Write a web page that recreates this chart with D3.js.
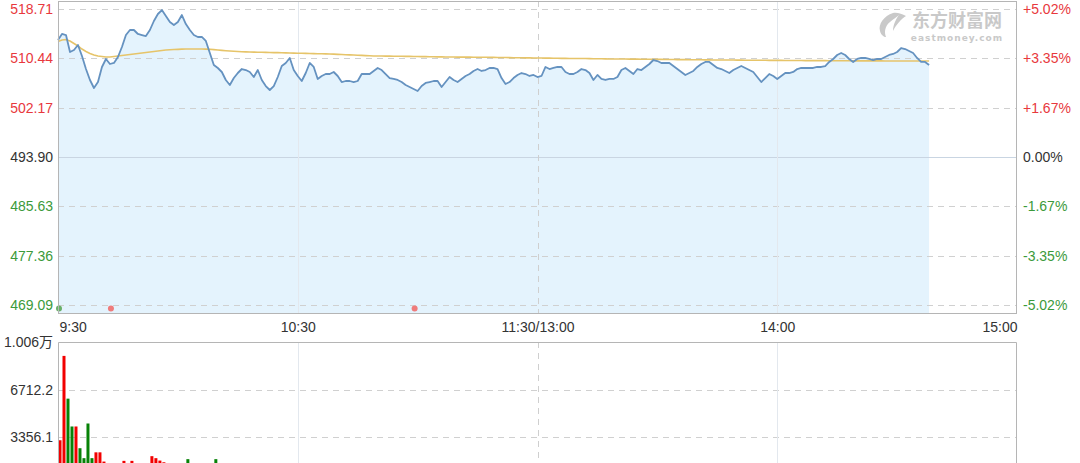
<!DOCTYPE html>
<html><head><meta charset="utf-8">
<script src="https://cdn.jsdelivr.net/npm/d3@7/dist/d3.min.js"></script>
<style>
html,body{margin:0;padding:0;background:#fff;overflow:hidden}
svg{display:block;font-family:"Liberation Sans",Arial,"Noto Sans CJK SC",sans-serif}
</style></head>
<body><svg id="c" width="1080" height="463"></svg>
<script>
// ---------- data ----------
const prevClose = 493.90;
const priceTicks = [518.71, 510.44, 502.17, 493.90, 485.63, 477.36, 469.09];
const pctLabels = ["+5.02%", "+3.35%", "+1.67%", "0.00%", "-1.67%", "-3.35%", "-5.02%"];
const timeTickMinutes = [0, 60, 120, 180, 240];
const timeTickLabels = ["9:30", "10:30", "11:30/13:00", "14:00", "15:00"];
const volTicks = [10068.3, 6712.2, 3356.1];
const volTickLabels = ["1.006万", "6712.2", "3356.1"];

const prices = [
513.51,514.52,514.35,511.50,511.84,512.68,510.83,508.65,506.81,505.47,
506.47,508.99,510.33,509.49,509.66,510.66,512.34,514.35,515.19,515.19,
514.52,514.35,514.18,515.19,516.70,517.87,518.54,517.54,516.53,516.03,
516.53,517.70,516.19,515.19,514.35,514.02,514.02,513.35,511.33,509.32,
508.82,508.15,506.81,505.97,507.14,507.98,508.65,508.48,508.15,507.31,
508.48,506.81,505.80,505.13,505.80,507.31,509.15,509.66,510.50,508.48,
507.48,506.64,507.98,509.66,508.99,506.98,507.48,507.81,507.81,508.15,
507.48,506.47,506.64,506.64,506.47,506.64,507.81,507.81,507.81,508.32,
508.82,508.48,507.81,507.14,506.98,506.81,506.47,505.97,505.63,505.30,
504.96,505.80,506.31,506.47,506.64,506.64,505.63,506.47,507.31,506.81,
506.47,506.98,507.48,507.81,508.32,508.65,508.32,508.48,508.82,508.82,
508.65,507.14,506.14,506.47,507.14,507.65,507.98,507.81,507.48,507.65,
507.31,507.48,508.99,508.65,508.82,508.99,508.99,508.15,507.81,507.81,
508.15,508.65,508.48,507.98,506.81,507.65,506.98,506.81,506.98,506.98,
507.31,508.48,508.82,508.32,507.81,508.65,508.48,508.99,509.49,510.16,
509.99,509.66,509.66,509.66,509.15,508.65,508.15,507.65,507.98,508.32,
508.99,509.49,509.83,509.83,509.32,508.82,508.65,508.32,507.98,508.48,
508.82,509.15,508.82,508.48,508.15,507.31,506.47,507.14,507.81,507.48,
506.98,507.48,507.98,507.98,508.15,508.65,508.82,508.82,508.82,508.82,
508.99,508.99,509.15,509.83,510.33,511.00,511.33,511.00,510.33,509.83,
510.33,510.50,510.50,510.33,510.16,510.33,510.33,510.66,511.00,511.17,
511.50,512.17,512.00,511.67,511.33,510.50,509.83,509.83,509.32];

const avgPrices = [
513.27,513.51,513.60,513.35,512.93,512.51,512.00,511.58,511.25,511.00,
510.83,510.75,510.66,510.66,510.75,510.83,510.91,511.00,511.08,511.17,
511.25,511.33,511.42,511.50,511.58,511.67,511.75,511.84,511.88,511.92,
511.95,511.98,512.00,512.00,512.00,512.00,512.00,511.98,511.95,511.90,
511.84,511.78,511.72,511.67,511.62,511.58,511.55,511.52,511.50,511.48,
511.47,511.45,511.44,511.42,511.40,511.39,511.37,511.35,511.33,511.32,
511.30,511.28,511.27,511.25,511.23,511.22,511.20,511.18,511.17,511.14,
511.11,511.08,511.05,511.02,510.99,510.96,510.93,510.90,510.87,510.84,
510.83,510.82,510.81,510.81,510.80,510.79,510.78,510.77,510.76,510.75,
510.74,510.73,510.72,510.71,510.70,510.69,510.68,510.67,510.66,510.66,
510.65,510.65,510.64,510.64,510.63,510.63,510.62,510.62,510.61,510.60,
510.59,510.58,510.57,510.56,510.55,510.54,510.53,510.52,510.51,510.50,
510.50,510.49,510.48,510.47,510.46,510.45,510.44,510.43,510.42,510.41,
510.41,510.40,510.40,510.39,510.38,510.37,510.36,510.35,510.34,510.34,
510.33,510.32,510.32,510.31,510.30,510.30,510.29,510.28,510.28,510.27,
510.26,510.26,510.25,510.24,510.24,510.23,510.22,510.22,510.21,510.20,
510.20,510.19,510.18,510.18,510.17,510.16,510.16,510.16,510.15,510.15,
510.14,510.14,510.13,510.13,510.12,510.12,510.11,510.11,510.10,510.10,
510.09,510.09,510.08,510.08,510.08,510.07,510.07,510.06,510.06,510.06,
510.05,510.05,510.05,510.04,510.04,510.04,510.03,510.03,510.03,510.02,
510.02,510.02,510.02,510.01,510.01,510.01,510.01,510.00,510.00,510.00,
510.00,510.00,509.99,509.99,509.99,509.99,509.99,509.99,509.99];

const volumes = [3150,9090,6080,4120,4120,2590,1890,4330,1890,2300,
2300,1650,1300,1200,1100,1250,1700,1350,1700,1200,
1100,1000,1150,2030,1890,1720,1600,1200,1100,1000,
1050,1200,1820,1150,1000,950,1000,1100,1050,1820];
const volumeDirs = [1,1,-1,-1,1,-1,-1,-1,-1,1,
1,1,-1,1,-1,1,1,-1,1,-1,
1,-1,1,1,1,1,1,-1,1,-1,
-1,1,-1,1,-1,1,-1,1,-1,-1];

const markerMinutes = [0, 13, 89];
const markerKinds = ["down", "up", "up"];

// ---------- drawing ----------
const svg = d3.select("#c");
const L = 58, R = 1017, PT = 1, PB = 313, VT = 342;
const x = d3.scaleLinear().domain([0, 240]).range([L, R]);
const y = d3.scaleLinear().domain([469.09, 518.71]).range([305, 9]);
const yv = d3.scaleLinear().domain([0, 10068.3]).range([485, VT]);

const RED = "#e8383d", GREEN = "#3b9a3b", GREY = "#333";
const colorFor = v => Math.abs(v - prevClose) < 0.005 ? GREY : (v > prevClose ? RED : GREEN);

// price area + lines
const idx = d3.range(prices.length);
svg.append("path")
  .attr("d", d3.area().x(i => x(i)).y0(PB).y1(i => y(prices[i]))(idx))
  .attr("fill", "#e4f3fd");

// grid lines price panel
const gp = svg.append("g");
priceTicks.forEach(t => {
  const base = Math.abs(t - prevClose) < 0.005;
  gp.append("line").attr("x1", L).attr("x2", R).attr("y1", Math.round(y(t)) + 0.5).attr("y2", Math.round(y(t)) + 0.5)
    .attr("stroke", base ? "#c9d5e2" : "#d0d0d0")
    .attr("stroke-dasharray", base ? null : "6,5");
});
timeTickMinutes.slice(1, 4).forEach(m => {
  const dashed = m === 120;
  gp.append("line").attr("x1", Math.round(x(m)) + 0.5).attr("x2", Math.round(x(m)) + 0.5)
    .attr("y1", PT).attr("y2", PB)
    .attr("stroke", dashed ? "#cfcfcf" : "#e3e8ee")
    .attr("stroke-dasharray", dashed ? "6,5" : null);
});

// watermark
const wm = svg.append("g").attr("fill", "#c9c9c9");
wm.append("path").attr("d", "M893,13 C884,16 878,24 880,31 C881,35 884,37 886,37 C884,32 885,26 890,22 C893,19 897,17 899,15 C896,19 893,25 893,31 C896,25 901,19 906,16 C902,14 897,12 893,13 Z");
wm.append("text").attr("x", 957).attr("y", 27).attr("text-anchor", "middle")
  .attr("font-family", "'Noto Sans CJK SC',sans-serif").attr("font-size", 18).attr("font-weight", 700)
  .text("东方财富网");
wm.append("text").attr("x", 957).attr("y", 41).attr("text-anchor", "middle")
  .attr("font-family", "'DejaVu Sans',sans-serif").attr("font-size", 9).attr("font-weight", 700)
  .attr("letter-spacing", 1).text("eastmoney.com");

svg.append("path")
  .attr("d", d3.line().x(i => x(i)).y(i => y(avgPrices[i])).curve(d3.curveLinear)(idx))
  .attr("fill", "none").attr("stroke", "#e6c469").attr("stroke-width", 1.6);
svg.append("path")
  .attr("d", d3.line().x(i => x(i)).y(i => y(prices[i]))(idx))
  .attr("fill", "none").attr("stroke", "#6592c0").attr("stroke-width", 1.8).attr("stroke-linejoin", "round");

// markers
markerMinutes.forEach((m, k) => {
  svg.append("circle").attr("cx", x(m) + 1).attr("cy", 308.5).attr("r", 3)
    .attr("fill", markerKinds[k] === "up" ? "#ef7b7b" : "#69b069");
});

// panel border
svg.append("rect").attr("x", L + 0.5).attr("y", PT + 0.5).attr("width", R - L - 1).attr("height", PB - PT)
  .attr("fill", "none").attr("stroke", "#b5b5b5");

// left axis
const axL = svg.append("g").attr("transform", `translate(${L - 5},0)`)
  .call(d3.axisLeft(y).tickValues(priceTicks).tickFormat(d3.format(".2f")).tickSize(0).tickPadding(0));
axL.select(".domain").remove();
axL.selectAll("text").attr("font-size", 14).attr("font-family", "'Liberation Sans',Arial,sans-serif")
  .attr("fill", d => colorFor(d));

// right axis
const axR = svg.append("g").attr("transform", `translate(${R + 6},0)`)
  .call(d3.axisRight(y).tickValues(priceTicks).tickFormat((d, i) => pctLabels[i]).tickSize(0).tickPadding(0));
axR.select(".domain").remove();
axR.selectAll("text").attr("font-size", 14).attr("font-family", "'Liberation Sans',Arial,sans-serif")
  .attr("fill", d => colorFor(d));

// time axis
const axB = svg.append("g").attr("transform", `translate(0,${PB})`)
  .call(d3.axisBottom(x).tickValues(timeTickMinutes).tickFormat((d, i) => timeTickLabels[i]).tickSize(0).tickPadding(9));
axB.select(".domain").remove();
axB.selectAll("text").attr("font-size", 14).attr("font-family", "'Liberation Sans',Arial,sans-serif").attr("fill", GREY)
  .attr("text-anchor", (d, i) => i === 0 ? "start" : (i === timeTickMinutes.length - 1 ? "end" : "middle"))
  .attr("dx", (d, i) => i === 0 ? 1 : 0);

// volume panel grid
const gv = svg.append("g");
volTicks.slice(1).forEach(t => {
  gv.append("line").attr("x1", L).attr("x2", R).attr("y1", Math.round(yv(t)) + 0.5).attr("y2", Math.round(yv(t)) + 0.5)
    .attr("stroke", "#d0d0d0").attr("stroke-dasharray", "6,5");
});
timeTickMinutes.slice(1, 4).forEach(m => {
  const dashed = m === 120;
  gv.append("line").attr("x1", Math.round(x(m)) + 0.5).attr("x2", Math.round(x(m)) + 0.5)
    .attr("y1", VT).attr("y2", 485)
    .attr("stroke", dashed ? "#cfcfcf" : "#e3e8ee")
    .attr("stroke-dasharray", dashed ? "6,5" : null);
});

// volume bars
svg.append("g").selectAll("rect").data(volumes).join("rect")
  .attr("x", (d, i) => x(i) + 0.5).attr("width", 3)
  .attr("y", d => yv(d)).attr("height", d => yv(0) - yv(d))
  .attr("fill", (d, i) => volumeDirs[i] > 0 ? "#f20000" : "#078207");

// volume border (left, top, right)
svg.append("path").attr("d", `M${L + 0.5},490V${VT + 0.5}H${R - 0.5}V490`)
  .attr("fill", "none").attr("stroke", "#b5b5b5");

// volume axis labels
const axV = svg.append("g").attr("transform", `translate(${L - 5},0)`)
  .call(d3.axisLeft(yv).tickValues(volTicks).tickFormat((d, i) => volTickLabels[i]).tickSize(0).tickPadding(0));
axV.select(".domain").remove();
axV.selectAll("text").attr("font-size", 14).attr("font-family", "'Liberation Sans',Arial,'Noto Sans CJK SC',sans-serif").attr("fill", GREY);
</script>
</body></html>
